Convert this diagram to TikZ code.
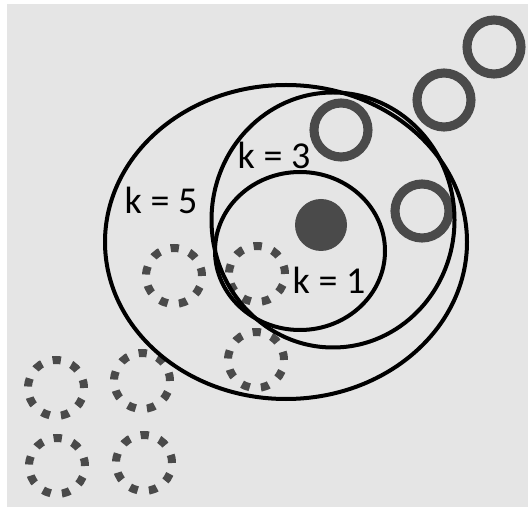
\documentclass[tikz,border=0pt]{standalone}
\usepackage{fontspec}
\setmainfont{Carlito}
\usepackage{tikz}
\definecolor{bggray}{RGB}{229,229,229}
\definecolor{ptgray}{RGB}{74,74,74}

\begin{document}
\begin{tikzpicture}[x=0.75pt,y=0.75pt,yscale=-1,xscale=1,
  ring/.style={circle,draw=ptgray,line width=6.8pt,minimum size=40.5pt,inner sep=0pt},
  dashring/.style={circle,draw=ptgray,line width=6pt,minimum size=42pt,inner sep=0pt,dash pattern=on 6.2pt off 8.45pt},
  bound/.style={line width=3pt,draw=black},
  klabel/.style={inner sep=0.75pt,font=\fontsize{28.5}{34}\selectfont}]
\useasboundingbox (0,0) rectangle (528,509);

%Background
\fill [bggray] (7,4) rectangle (528,507);

%Query point
\node [circle,fill=ptgray,minimum size=39pt,inner sep=0pt] (query) at (321,225) {};

%Solid rings
\node [ring] (ringa) at (341,130) {};
\node [ring] (ringb) at (444,100) {};
\node [ring] (ringc) at (494,47) {};
\node [ring] (ringd) at (422,211) {};

%Dashed rings
\node [dashring] (dasha) at (174,276) {};
\node [dashring] (dashb) at (257,274) {};
\node [dashring] (dashc) at (256,360) {};
\node [dashring] (dashd) at (56,388) {};
\node [dashring] (dashe) at (142,381) {};
\node [dashring] (dashf) at (57,466) {};
\node [dashring] (dashg) at (144,463) {};

%Ellipses
\draw [bound] (286,242) ellipse [x radius=181,y radius=157];
\draw [bound] (333,220) ellipse [x radius=121.5,y radius=127.5];
\draw [bound] (300,251) ellipse [x radius=85,y radius=79];

% Text Node
\node [klabel] (kfive) at (161,200) {k = 5};
% Text Node
\node [klabel] (kthree) at (274,155) {k = 3};
% Text Node
\node [klabel] (kone) at (329,280) {k = 1};

\end{tikzpicture}
\end{document}
